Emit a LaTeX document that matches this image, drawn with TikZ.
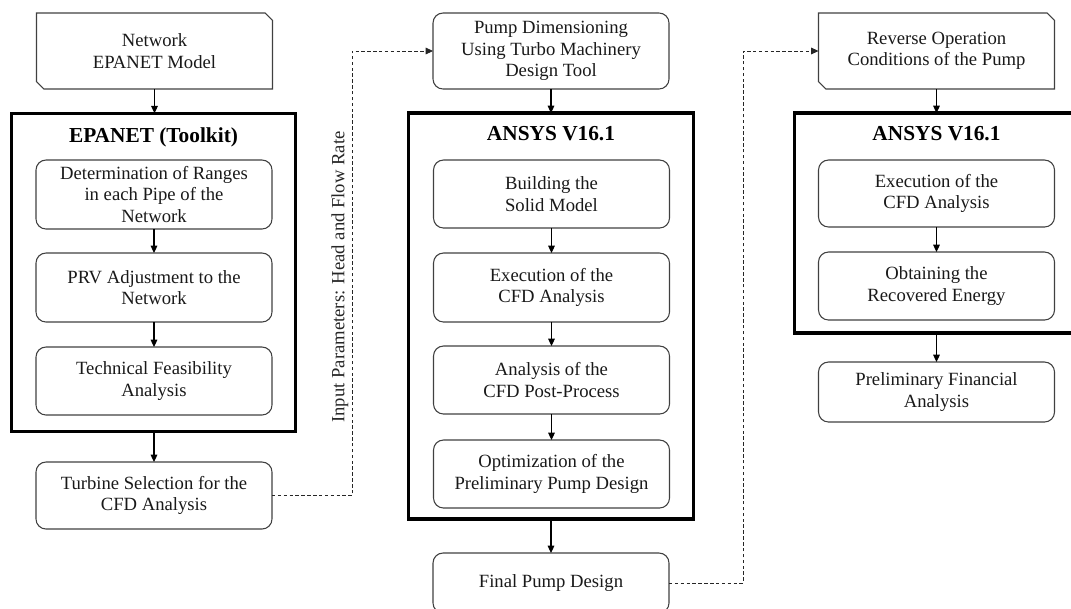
\documentclass[tikz,border=0pt]{standalone}
\usepackage{fontspec}
\setmainfont{Liberation Serif}
\usetikzlibrary{arrows.meta}
\begin{document}
\begin{tikzpicture}[x={(0.75pt,0)}, y={(0,-0.75pt)},
  every node/.style={outer sep=0pt, inner sep=2pt},
  txt/.style={align=center, font=\fontsize{14}{16}\selectfont, text=black!90},
  stepbox/.style={txt, draw=black!75, line width=0.8pt, rounded corners=7.5pt,
    minimum width=177pt},
  chambox/.style={txt, minimum width=177pt, minimum height=57pt},
  chamline/.style={draw=black!75, line width=0.8pt},
  framebox/.style={draw=black, line width=2.4pt, minimum width=#1},
  ttl/.style={font=\fontsize{16}{18}\selectfont\bfseries},
  arr/.style={-{Triangle[length=5.5pt,width=5pt]}, line width=0.8pt, black},
  dasharr/.style={-{Triangle[length=5.5pt,width=5pt]}, line width=0.6pt, black!85, dash pattern=on 2.6pt off 1.8pt},
  lbl/.style={font=\fontsize{14}{16}\selectfont, text=black!85}
  ]
\useasboundingbox (0,0) rectangle (1071,608);
\clip (0,0) rectangle (1071,608);

% ---------- left column ----------
\node[chambox] (net) at (154.5,51) {Network\\EPANET Model};
\draw[chamline] (net.north west) -- ([xshift=-5.5pt]net.north east) -- ([yshift=-5.5pt]net.north east)
  -- (net.south east) -- ([xshift=5.5pt]net.south west) -- ([yshift=5.5pt]net.south west) -- cycle;

\node[framebox=213pt, minimum height=238.5pt] (f1) at (153.5,272.25) {};
\node[ttl] (t1) at (153.5,137) {EPANET (Toolkit)};

\node[stepbox, minimum height=51.75pt] (b1) at (154,194.5) {Determination of Ranges\\in each Pipe of the\\Network};
\node[stepbox, minimum height=51.75pt] (b2) at (154,287.5) {PRV Adjustment to the\\Network};
\node[stepbox, minimum height=51pt] (b3) at (154,381) {Technical Feasibility\\Analysis};
\node[stepbox, minimum height=50.25pt] (tur) at (154,495.5) {Turbine Selection for the\\CFD Analysis};

\draw[arr] (net.south) -- (f1.north -| net.south);
\draw[arr] (b1) -- (b2);
\draw[arr] (b2) -- (b3);
\draw[arr] (f1.south -| tur.north) -- (tur.north);

% ---------- middle column ----------
\node[stepbox, minimum height=57pt] (pump) at (551,51) {Pump Dimensioning\\Using Turbo Machinery\\Design Tool};
\node[framebox=214pt, minimum height=304.5pt] (f2) at (551,316) {};
\node[ttl] (t2) at (551,134) {ANSYS V16.1};

\node[stepbox, minimum height=51pt] (m1) at (551.5,194) {Building the\\Solid Model};
\node[stepbox, minimum height=51.75pt] (m2) at (551.5,287.5) {Execution of the\\CFD Analysis};
\node[stepbox, minimum height=51pt] (m3) at (551.5,380) {Analysis of the\\CFD Post-Process};
\node[stepbox, minimum height=51pt] (m4) at (551.5,474) {Optimization of the\\Preliminary Pump Design};
\node[stepbox, minimum height=45pt] (fin) at (551,583) {Final Pump Design};

\draw[arr] (pump.south) -- (f2.north -| pump.south);
\draw[arr] (m1) -- (m2);
\draw[arr] (m2) -- (m3);
\draw[arr] (m3) -- (m4);
\draw[arr] (f2.south -| fin.north) -- (fin.north);

% ---------- right column ----------
\node[chambox] (rev) at (936.5,51) {Reverse Operation\\Conditions of the Pump};
\draw[chamline] (rev.north west) -- ([xshift=-5.5pt]rev.north east) -- ([yshift=-5.5pt]rev.north east)
  -- (rev.south east) -- ([xshift=5.5pt]rev.south west) -- ([yshift=5.5pt]rev.south west) -- cycle;

\node[framebox=213pt, minimum height=165pt] (f3) at (936.5,223) {};
\node[ttl] (t3) at (936.5,134) {ANSYS V16.1};

\node[stepbox, minimum height=50.25pt] (r1) at (936.5,193.5) {Execution of the\\CFD Analysis};
\node[stepbox, minimum height=51pt] (r2) at (936.5,286) {Obtaining the\\Recovered Energy};
\node[stepbox, minimum height=45pt] (r3) at (936.5,392) {Preliminary Financial\\Analysis};

\draw[arr] (rev.south) -- (f3.north -| rev.south);
\draw[arr] (r1) -- (r2);
\draw[arr] (f3.south -| r3.north) -- (r3.north);

% ---------- dashed connectors ----------
\coordinate (d1) at (352,51);
\coordinate (d2) at (743,51);
\draw[dasharr] (tur.east) -| (d1) -- (pump.west);
\draw[dasharr] (fin.east) -| (d2) -- (rev.west);
\node[lbl, rotate=90] (inp) at (340,277) {Input Parameters: Head and Flow Rate};
\end{tikzpicture}
\end{document}
